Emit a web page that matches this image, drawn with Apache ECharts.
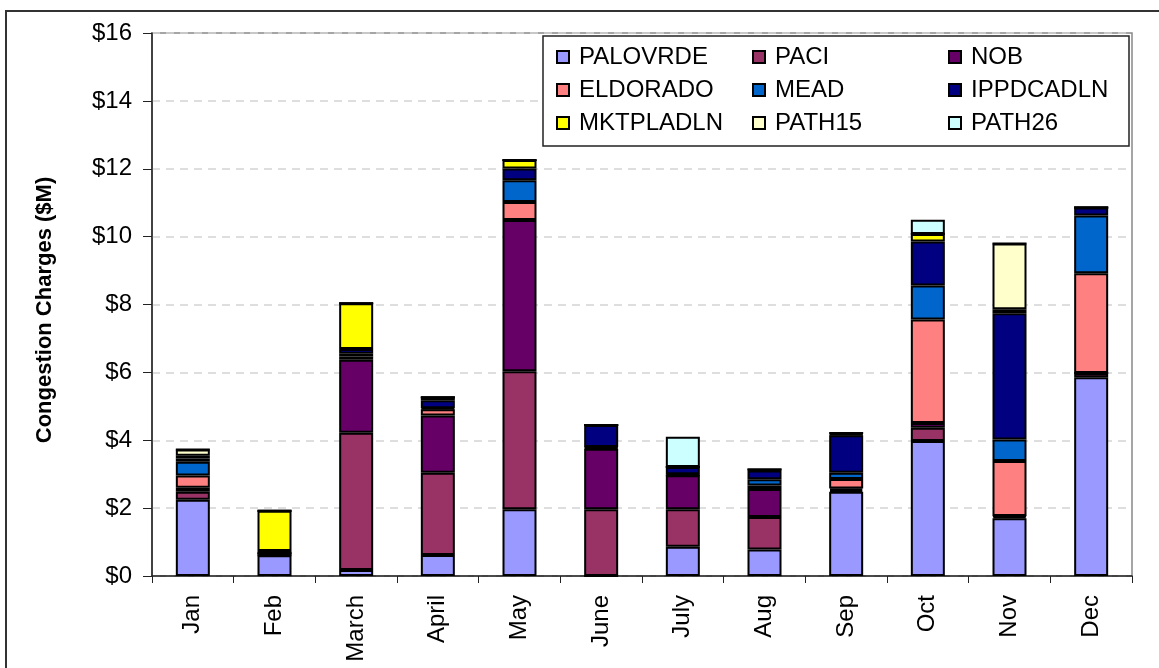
<!DOCTYPE html>
<html>
<head>
<meta charset="utf-8">
<script src="https://cdn.jsdelivr.net/npm/echarts@6/dist/echarts.min.js"></script>
<style>
  html, body { margin: 0; padding: 0; background: #fff; }
  #chart { width: 1159px; height: 668px; }
</style>
</head>
<body>
<div id="chart"></div>
<script>
// categories
const months = ['Jan', 'Feb', 'March', 'April', 'May', 'June', 'July', 'Aug', 'Sep', 'Oct', 'Nov', 'Dec']

// congestion charges by path, $M
const palovrde = [2.25, 0.61, 0.18, 0.62, 1.97, 0, 0.86, 0.78, 2.48, 3.98, 1.70, 5.86]
const paci = [0.23, 0, 4.04, 2.42, 4.06, 1.97, 1.11, 0.96, 0.05, 0.39, 0.05, 0.12]
const nob = [0.12, 0.05, 2.15, 1.69, 4.46, 1.78, 1.00, 0.82, 0.05, 0.14, 0.02, 0]
const eldorado = [0.36, 0, 0.10, 0.18, 0.53, 0.03, 0, 0.11, 0.28, 3.05, 1.62, 2.94]
const mead = [0.41, 0, 0.08, 0.03, 0.64, 0.02, 0.03, 0.18, 0.18, 1.00, 0.63, 1.70]
const ippdcadln = [0.09, 0.08, 0.14, 0.24, 0.35, 0.65, 0.21, 0.26, 1.11, 1.30, 3.72, 0.24]
const mktpladln = [0.08, 1.18, 1.35, 0.09, 0.25, 0, 0, 0.03, 0.02, 0.22, 0.12, 0]
const path15 = [0.19, 0, 0, 0, 0, 0, 0, 0, 0.04, 0, 1.94, 0]
const path26 = [0, 0, 0, 0, 0, 0, 0.89, 0, 0, 0.42, 0, 0]

// y axis ticks
const yMin = 0
const yMax = 16
const yStep = 2

const seriesDefs = [
  { name: 'PALOVRDE', data: palovrde, color: '#9999FF' },
  { name: 'PACI', data: paci, color: '#993366' },
  { name: 'NOB', data: nob, color: '#660066' },
  { name: 'ELDORADO', data: eldorado, color: '#FF8080' },
  { name: 'MEAD', data: mead, color: '#0066CC' },
  { name: 'IPPDCADLN', data: ippdcadln, color: '#000080' },
  { name: 'MKTPLADLN', data: mktpladln, color: '#FFFF00' },
  { name: 'PATH15', data: path15, color: '#FFFFCC' },
  { name: 'PATH26', data: path26, color: '#CCFFFF' }
]

const font = 'Liberation Sans, Arial, sans-serif'
const legendText = { fontSize: 24, fontFamily: font, color: '#000', padding: [0, 0, 0, 5] }

function legendCol (left, names) {
  return {
    orient: 'vertical',
    left: left,
    top: 40,
    z: 10,
    icon: 'rect',
    itemWidth: 12,
    itemHeight: 12,
    itemGap: 9,
    selectedMode: false,
    textStyle: legendText,
    data: names
  }
}

const chart = echarts.init(document.getElementById('chart'))
chart.setOption({
  backgroundColor: '#fff',
  animation: false,
  graphic: [
    {
      type: 'rect',
      z: 1,
      shape: { x: 6, y: 11, width: 1200, height: 700 },
      style: { fill: 'none', stroke: '#333', lineWidth: 2 }
    },
    {
      type: 'rect',
      z: 5,
      shape: { x: 543, y: 36, width: 586, height: 110 },
      style: { fill: '#fff', stroke: '#222', lineWidth: 1.5 }
    },
    {
      type: 'text',
      z: 5,
      x: 45,
      y: 310,
      rotation: Math.PI / 2,
      style: {
        text: 'Congestion Charges ($M)',
        fontSize: 22,
        fontWeight: 'bold',
        fontFamily: font,
        fill: '#000',
        align: 'center',
        verticalAlign: 'middle'
      }
    }
  ],
  legend: [
    legendCol(551, ['PALOVRDE', 'ELDORADO', 'MKTPLADLN']),
    legendCol(747, ['PACI', 'MEAD', 'PATH15']),
    legendCol(943, ['NOB', 'IPPDCADLN', 'PATH26'])
  ],
  grid: {
    left: 152,
    top: 33,
    right: 27,
    bottom: 92,
    show: true,
    borderColor: '#888',
    borderWidth: 1.5
  },
  xAxis: {
    type: 'category',
    data: months,
    axisLine: { lineStyle: { color: '#222', width: 1.5 } },
    axisTick: { show: true, length: 7, lineStyle: { color: '#222' } },
    axisLabel: {
      rotate: 90,
      margin: 19,
      fontSize: 24,
      fontFamily: font,
      color: '#000'
    }
  },
  yAxis: {
    type: 'value',
    min: yMin,
    max: yMax,
    interval: yStep,
    axisLine: { show: true, lineStyle: { color: '#222', width: 1.5 } },
    axisTick: { show: true, length: 9, lineStyle: { color: '#222' } },
    axisLabel: {
      margin: 20,
      fontSize: 24,
      fontFamily: font,
      color: '#000',
      formatter: v => '$' + v
    },
    splitLine: { lineStyle: { color: '#d4d4d4', width: 1.5, type: [8, 6] } }
  },
  series: seriesDefs.map(s => ({
    name: s.name,
    type: 'bar',
    stack: 'total',
    barWidth: 34,
    data: s.data,
    itemStyle: { color: s.color, borderColor: '#000', borderWidth: 2 }
  }))
})
</script>
</body>
</html>
